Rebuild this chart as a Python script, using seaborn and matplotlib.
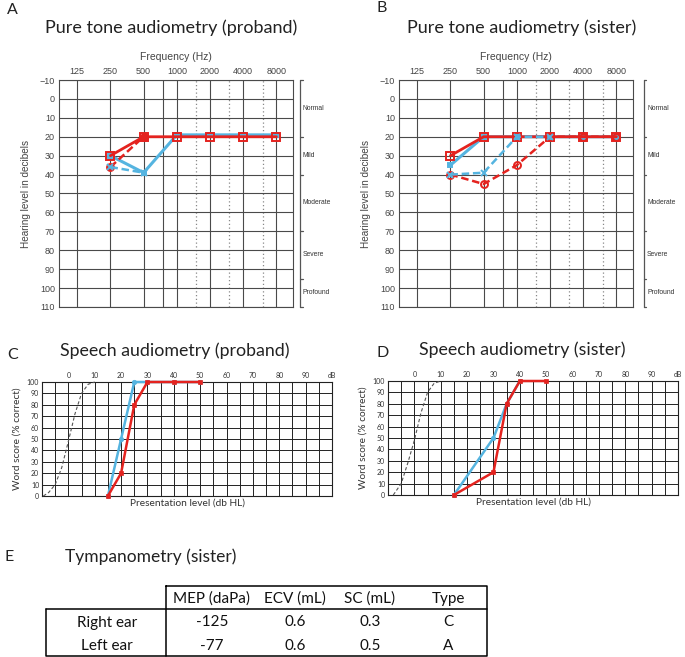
import matplotlib
matplotlib.use("Agg")
import matplotlib.pyplot as plt
import matplotlib.transforms as mtransforms
from matplotlib.ticker import NullLocator
import numpy as np
import seaborn as sns

sns.set_style("white")
plt.rcParams['font.family'] = ['Lato', 'DejaVu Sans']

# ---------------- data ----------------
freqs = [250, 500, 1000, 2000, 4000, 8000]
freq_labels = [125, 250, 500, 1000, 2000, 4000, 8000]
freq_grid_solid = [125, 250, 500, 750, 1000, 2000, 4000, 8000]
freq_grid_dotted = [1500, 3000, 6000]
db_ticks = list(range(-10, 111, 10))

degree_labels = ["Normal", "Mild", "Moderate", "Severe", "Profound"]
degree_bounds = [-10, 20, 40, 70, 95, 110]

# proband pure tone
pA_right_air = [30, 20, 20, 20, 20, 20]
pA_left_air = [30, 39, 19, 19, 19, 19]
pA_right_bone_f = [250, 500]
pA_right_bone = [36, 20]
pA_left_bone_f = [250, 500]
pA_left_bone = [36, 39]

# sister pure tone
sB_right_air = [30, 20, 20, 20, 20, 20]
sB_left_air = [35, 20, 20, 20, 20, 20]
sB_left_bone_f = [250, 500, 1000, 2000]
sB_left_bone = [40, 39, 20, 20]
sB_right_bone = [40, 45, 35, 20, 20, 20]

# speech audiometry
speech_ticks = [0, 10, 20, 30, 40, 50, 60, 70, 80, 90, 100]
speech_tick_labels = ["0", "10", "20", "30", "40", "50", "60", "70", "80", "90", "dB"]
score_ticks = [0, 10, 20, 30, 40, 50, 60, 70, 80, 90, 100]

normC_x = [-9.5, -7.5, -5, -2.5, 0, 2.5, 5, 7.5, 10]
normC_y = [0, 3, 10, 25, 48, 72, 90, 98, 100]
pC_left_x = [15, 20, 25, 30, 40, 50]
pC_left_y = [0, 50, 100, 100, 100, 100]
pC_right_x = [15, 20, 25, 30, 40, 50]
pC_right_y = [0, 20, 80, 100, 100, 100]

normD_x = [-8, -5, -2.5, 0, 2.5, 5, 7.5, 10]
normD_y = [0, 10, 28, 48, 72, 90, 98, 100]
sD_left_x = [15, 30, 35, 40]
sD_left_y = [0, 50, 80, 100]
sD_right_x = [15, 30, 35, 40, 50]
sD_right_y = [0, 20, 80, 100, 100]

# tympanometry
tymp_columns = ["MEP (daPa)", "ECV (mL)", "SC (mL)", "Type"]
tymp_rows = ["Right ear", "Left ear"]
tymp_mep = ["-125", "-77"]
tymp_ecv = ["0.6", "0.6"]
tymp_sc = ["0.3", "0.5"]
tymp_type = ["C", "A"]

RED = "#e4231f"
BLUE = "#55b4e0"
GRID = "#4a4a4a"
TXT = "#444444"

W, H = 685, 657
fig = plt.figure(figsize=(W / 100, H / 100), dpi=100)


def add_ax(l, t, r, b):
    return fig.add_axes([l / W, 1 - b / H, (r - l) / W, (b - t) / H])


def ftext(x, y, s, **kw):
    fig.text(x / W, 1 - y / H, s, **kw)


def audiogram(ax, series, bracket_x, label_x):
    ax.set_xscale('log', base=2)
    ax.set_xlim(125 / 2 ** 0.55, 8000 * 2 ** 0.5)
    ax.set_ylim(110, -10)
    for f in freq_grid_solid:
        ax.axvline(f, color=GRID, lw=0.8, zorder=1)
    for f in freq_grid_dotted:
        ax.axvline(f, color="#888888", lw=0.9, ls=(0, (1, 2)), zorder=1)
    for d in db_ticks:
        ax.axhline(d, color=GRID, lw=0.8, zorder=1)
    for sp in ax.spines.values():
        sp.set_color(GRID)
        sp.set_linewidth(0.8)
    ax.xaxis.tick_top()
    ax.set_xticks(freq_labels)
    ax.set_xticklabels([str(f) for f in freq_labels], family=['Liberation Sans'], fontsize=6.5, color=TXT)
    ax.xaxis.set_minor_locator(NullLocator())
    ax.set_yticks(db_ticks)
    ax.set_yticklabels([("\u221210" if d < 0 else str(d)) for d in db_ticks],
                       family=['Liberation Sans'], fontsize=6.5, color=TXT)
    ax.tick_params(length=0, pad=3)
    ax.set_xlabel("Frequency (Hz)", family=['Liberation Sans'], fontsize=7.5, color=TXT, labelpad=5)
    ax.xaxis.set_label_position('top')
    ax.set_ylabel("Hearing level in decibels", family=['Liberation Sans'], fontsize=7.2, color=TXT, labelpad=6)
    for (x, y, c, ls, m, mfc, ms, lw, z) in series:
        sns.lineplot(x=x, y=y, ax=ax, color=c, linestyle=ls, marker=m, markerfacecolor=mfc,
                     markeredgecolor=c, markeredgewidth=1.4, markersize=ms, linewidth=lw,
                     sort=False, zorder=z, clip_on=False)
    # degree bracket
    tr = mtransforms.blended_transform_factory(ax.transAxes, ax.transData)
    ax.plot([bracket_x, bracket_x], [degree_bounds[0], degree_bounds[-1]], color="#555555",
            lw=0.9, transform=tr, clip_on=False)
    for b in degree_bounds:
        ax.plot([bracket_x, bracket_x + 0.012], [b, b], color="#555555", lw=0.9,
                transform=tr, clip_on=False)
    for i, lab in enumerate(degree_labels):
        mid = (degree_bounds[i] + degree_bounds[i + 1]) / 2
        ax.text(label_x, mid, lab, transform=tr, fontsize=4.9, family=['Liberation Sans'],
                color="#333333", va='center', ha='left')


def speech(ax, norm_x, norm_y, series):
    ax.set_xlim(-10, 100)
    ax.set_ylim(0, 100)
    for v in range(-10, 101, 5):
        ax.axvline(v, color="#222222", lw=0.7, zorder=1)
    for s in score_ticks:
        ax.axhline(s, color="#222222", lw=0.7, zorder=1)
    for sp in ax.spines.values():
        sp.set_color("#222222")
        sp.set_linewidth(0.8)
    ax.xaxis.tick_top()
    ax.set_xticks(speech_ticks)
    ax.set_xticklabels(speech_tick_labels, fontsize=5, color="#333333")
    ax.set_yticks(score_ticks)
    ax.set_yticklabels([str(s) for s in score_ticks], fontsize=5, color="#333333")
    ax.tick_params(length=0, pad=2)
    ax.set_ylabel("Word score (% correct)", fontsize=7.3, color="#333333", labelpad=4)
    ax.set_xlabel("Presentation level (db HL)", fontsize=7.3, color="#333333", labelpad=2)
    sns.lineplot(x=norm_x, y=norm_y, ax=ax, color="#555555", linestyle=(0, (3, 2)), linewidth=0.8,
                 sort=False, zorder=3, clip_on=False)
    for (x, y, c, m, z) in series:
        sns.lineplot(x=x, y=y, ax=ax, color=c, marker=m, markersize=3.2, markerfacecolor=c,
                     markeredgecolor=c, markeredgewidth=0.5, linewidth=1.8, sort=False,
                     zorder=z, clip_on=False)


# ---------- Panel A ----------
axA = add_ax(59, 80, 293, 307)
audiogram(axA, [
    (freqs, pA_left_air, BLUE, '-', 's', BLUE, 3.5, 2.2, 4),
    (freqs, pA_right_air, RED, '-', 's', 'none', 5.5, 2.0, 5),
    (pA_right_bone_f, pA_right_bone, RED, (0, (3, 1.5)), 'o', RED, 5, 1.8, 5),
    (pA_left_bone_f, pA_left_bone, BLUE, (0, (3, 1.5)), 'x', BLUE, 5, 1.8, 6),
], bracket_x=1.03, label_x=1.04)

# ---------- Panel B ----------
axB = add_ax(399, 80, 633, 307)
audiogram(axB, [
    (freqs, sB_left_air, BLUE, '-', 's', BLUE, 3.5, 2.2, 4),
    (freqs, sB_right_air, RED, '-', 's', 'none', 5.5, 2.0, 5),
    (freqs, sB_right_bone, RED, (0, (3, 1.5)), 'o', 'none', 5, 1.8, 5),
    (sB_left_bone_f, sB_left_bone, BLUE, (0, (3, 1.5)), 'x', BLUE, 5, 1.8, 6),
], bracket_x=1.045, label_x=1.06)

# ---------- Panel C ----------
axC = add_ax(42, 382, 332, 496)
speech(axC, normC_x, normC_y, [
    (pC_left_x, pC_left_y, BLUE, 'o', 4),
    (pC_right_x, pC_right_y, RED, 's', 5),
])

# ---------- Panel D ----------
axD = add_ax(388, 381, 678, 495)
speech(axD, normD_x, normD_y, [
    (sD_left_x, sD_left_y, BLUE, 'o', 4),
    (sD_right_x, sD_right_y, RED, 's', 5),
])

# ---------- titles / panel letters ----------
ftext(7, 10, "A", fontsize=11.5, va='center', ha='left', color='#222222')
ftext(376, 8, "B", fontsize=11.5, va='center', ha='left', color='#222222')
ftext(7, 355, "C", fontsize=11.5, va='center', ha='left', color='#222222')
ftext(377, 353, "D", fontsize=11.5, va='center', ha='left', color='#222222')
ftext(4, 557, "E", fontsize=11.5, va='center', ha='left', color='#222222')

ftext(171, 28, "Pure tone audiometry (proband)", fontsize=13, va='center', ha='center', color='#222222')
ftext(522, 28, "Pure tone audiometry (sister)", fontsize=13, va='center', ha='center', color='#222222')
ftext(175, 351, "Speech audiometry (proband)", fontsize=12.8, va='center', ha='center', color='#222222')
ftext(522, 350, "Speech audiometry (sister)", fontsize=12.8, va='center', ha='center', color='#222222')
ftext(65, 557, "Tympanometry (sister)", fontsize=12.5, va='center', ha='left', color='#222222')

# ---------- Panel E : table ----------
axT = fig.add_axes([0, 0, 1, 1])
axT.set_xlim(0, W)
axT.set_ylim(H, 0)
axT.axis('off')
lw_t = 1.1
col_x = [107, 212, 295, 370, 448]
x0, x1, xr = 46, 166, 487
y_top, y_head, y_bot = 586, 609, 656
axT.plot([x1, xr, xr, x1, x1], [y_top, y_top, y_bot, y_bot, y_top], color='black', lw=lw_t)
axT.plot([x0, xr], [y_head, y_head], color='black', lw=lw_t)
axT.plot([x0, x0, x1], [y_head, y_bot, y_bot], color='black', lw=lw_t)
for cx, lab in zip(col_x[1:], tymp_columns):
    axT.text(cx, 598.5, lab, fontsize=11, ha='center', va='center', color='#111111')
row_y = [622.5, 645.5]
for i, r in enumerate(tymp_rows):
    vals = [r, tymp_mep[i], tymp_ecv[i], tymp_sc[i], tymp_type[i]]
    for cx, v in zip(col_x, vals):
        axT.text(cx, row_y[i], v, fontsize=11, ha='center', va='center', color='#111111')

fig.savefig("out.png", dpi=100)
